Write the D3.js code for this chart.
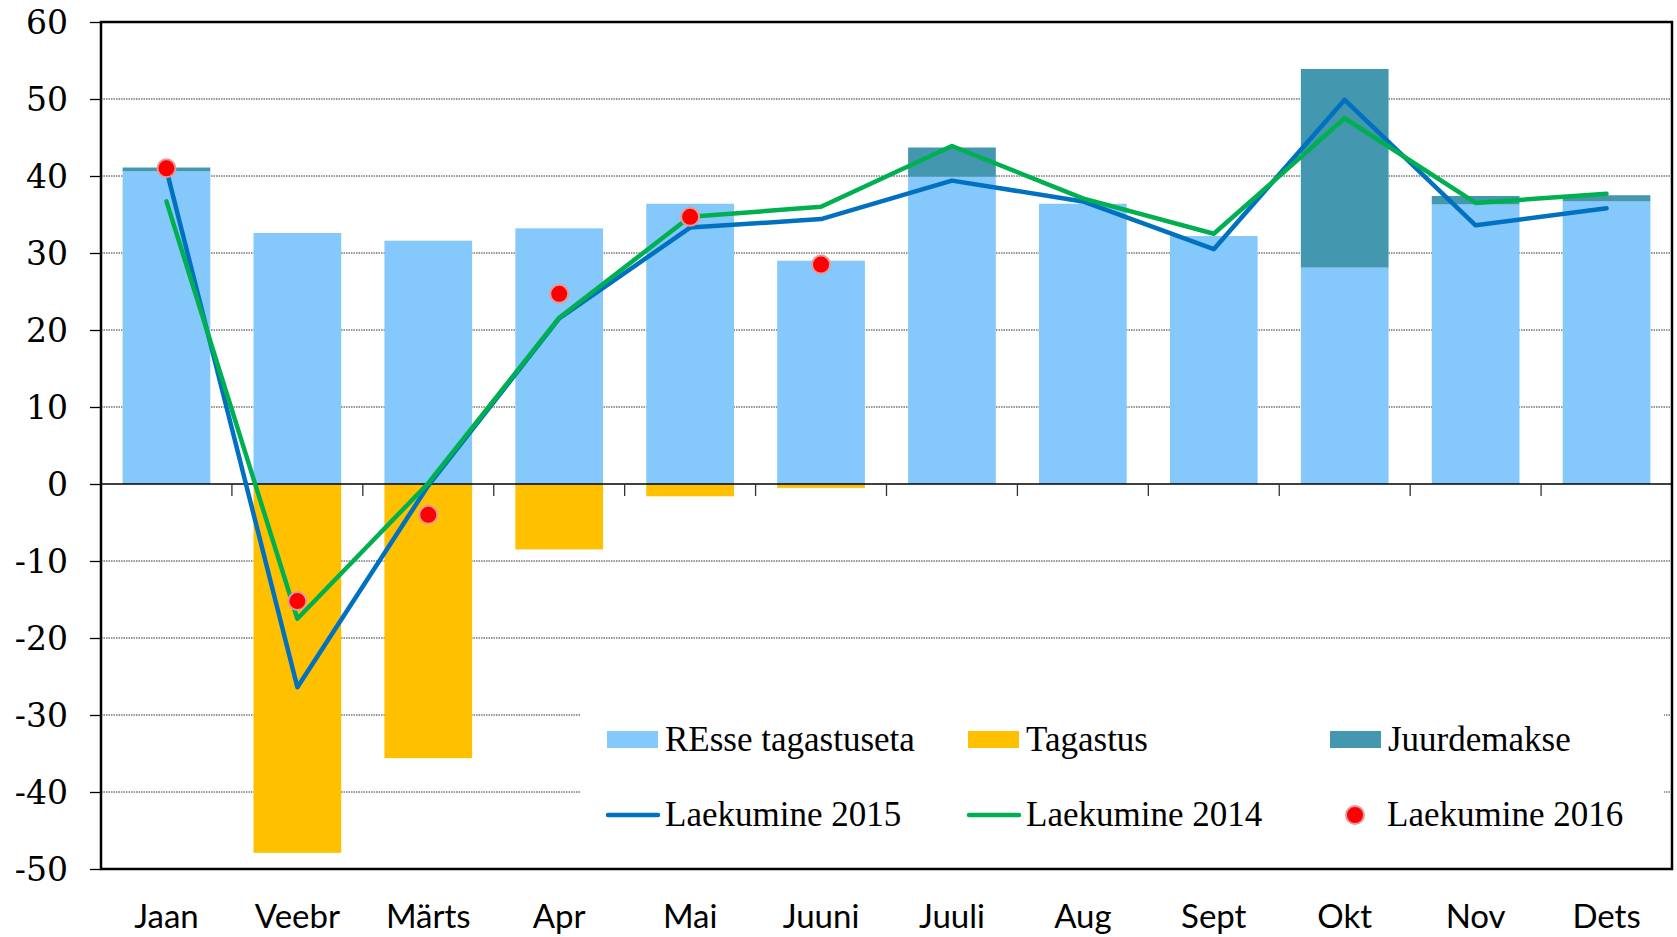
<!DOCTYPE html>
<html>
<head>
<meta charset="utf-8">
<script src="https://cdn.jsdelivr.net/npm/d3@7"></script>
<style>
    body { margin: 0; background: #fff; }
    #y-label text { font-family: "DejaVu Serif", serif; }
</style>
</head>
<body>
<svg id="chart"></svg>
<script>
// months on the x axis
const months = ['Jaan', 'Veebr', 'Märts', 'Apr', 'Mai', 'Juuni', 'Juuli', 'Aug', 'Sept', 'Okt', 'Nov', 'Dets']

// bar series
const ressTagastuseta = [40.6, 32.6, 31.6, 33.2, 36.4, 29.0, 39.9, 36.4, 32.2, 28.1, 36.3, 36.7]
const juurdemakse = [0.5, 0, 0, 0, 0, 0, 3.8, 0, 0, 25.8, 1.1, 0.8]
const tagastus = [0, -47.9, -35.6, -8.5, -1.6, -0.5, 0, 0, 0, 0, 0, 0]

// line series
const laekumine2015 = [40.8, -26.4, -0.2, 21.5, 33.3, 34.4, 39.4, 36.7, 30.5, 49.9, 33.6, 35.8]
const laekumine2014 = [36.7, -17.5, 0.1, 21.6, 34.7, 36.0, 43.9, 37.1, 32.5, 47.5, 36.5, 37.7]
const laekumine2016 = [41.0, -15.2, -4.0, 24.7, 34.7, 28.5]

const yTicks = [-50, -40, -30, -20, -10, 0, 10, 20, 30, 40, 50, 60]

const legendItems = [
    {label: 'REsse tagastuseta', type: 'rect', color: '#85c8fb'},
    {label: 'Tagastus', type: 'rect', color: '#ffc000'},
    {label: 'Juurdemakse', type: 'rect', color: '#4397af'},
    {label: 'Laekumine 2015', type: 'line', color: '#0070c0'},
    {label: 'Laekumine 2014', type: 'line', color: '#00b050'},
    {label: 'Laekumine 2016', type: 'dot', color: '#ff0000'}
]

const config = {
    width: 1677,
    height: 937,
    margin: {top: 22, right: 5, bottom: 68, left: 101}
}

const colors = {
    ress: '#85c8fb',
    tagastus: '#ffc000',
    juurde: '#4397af',
    l2015: '#0070c0',
    l2014: '#00b050',
    l2016: '#ff0000'
}

const svg = d3.select('#chart')
    .attr('width', config.width)
    .attr('height', config.height)

const innerW = config.width - config.margin.left - config.margin.right
const innerH = config.height - config.margin.top - config.margin.bottom

const chart = svg.append('g')
    .attr('transform', `translate(${config.margin.left}, ${config.margin.top})`)

// scales
const xScale = d3.scaleBand()
    .domain(months)
    .range([0, innerW])
    .paddingInner(0.33)
    .paddingOuter(0.165)

const yScale = d3.scaleLinear()
    .domain([-50, 60])
    .range([innerH, 0])

const step = xScale.step()
const center = (m) => xScale(m) + xScale.bandwidth() / 2

// dotted gridlines
chart.append('g')
    .selectAll('line')
    .data(yTicks.filter(t => t !== 0 && t !== 60 && t !== -50))
    .join('line')
    .attr('x1', 0)
    .attr('x2', innerW)
    .attr('y1', d => yScale(d))
    .attr('y2', d => yScale(d))
    .attr('stroke', '#333')
    .attr('stroke-width', 1)
    .attr('stroke-dasharray', '1.5,1')

// bars
const barData = months.map((m, i) => ({
    month: m,
    ress: ressTagastuseta[i],
    juurde: juurdemakse[i],
    tagastus: tagastus[i]
}))

chart.append('g')
    .selectAll('rect')
    .data(barData)
    .join('rect')
    .attr('x', d => xScale(d.month))
    .attr('width', xScale.bandwidth())
    .attr('y', d => yScale(d.ress))
    .attr('height', d => yScale(0) - yScale(d.ress))
    .attr('fill', colors.ress)

chart.append('g')
    .selectAll('rect')
    .data(barData.filter(d => d.juurde > 0))
    .join('rect')
    .attr('x', d => xScale(d.month))
    .attr('width', xScale.bandwidth())
    .attr('y', d => yScale(d.ress + d.juurde))
    .attr('height', d => yScale(d.ress) - yScale(d.ress + d.juurde))
    .attr('fill', colors.juurde)

chart.append('g')
    .selectAll('rect')
    .data(barData.filter(d => d.tagastus < 0))
    .join('rect')
    .attr('x', d => xScale(d.month))
    .attr('width', xScale.bandwidth())
    .attr('y', yScale(0))
    .attr('height', d => yScale(d.tagastus) - yScale(0))
    .attr('fill', colors.tagastus)

// zero line with category ticks
chart.append('line')
    .attr('x1', 0)
    .attr('x2', innerW)
    .attr('y1', yScale(0))
    .attr('y2', yScale(0))
    .attr('stroke', '#000')
    .attr('stroke-width', 1.3)

chart.append('g')
    .selectAll('line')
    .data(months.slice(1))
    .join('line')
    .attr('x1', d => xScale(d) - step * 0.33 / 2)
    .attr('x2', d => xScale(d) - step * 0.33 / 2)
    .attr('y1', yScale(0))
    .attr('y2', yScale(0) + 12)
    .attr('stroke', '#333')
    .attr('stroke-width', 1.3)

// lines
const line = d3.line()
    .x((d, i) => center(months[i]))
    .y(d => yScale(d))

chart.append('path')
    .datum(laekumine2015)
    .attr('d', line)
    .attr('fill', 'none')
    .attr('stroke', colors.l2015)
    .attr('stroke-width', 4.5)
    .attr('stroke-linejoin', 'round')
    .attr('stroke-linecap', 'round')

chart.append('path')
    .datum(laekumine2014)
    .attr('d', line)
    .attr('fill', 'none')
    .attr('stroke', colors.l2014)
    .attr('stroke-width', 4.5)
    .attr('stroke-linejoin', 'round')
    .attr('stroke-linecap', 'round')

// 2016 dots
chart.append('g')
    .selectAll('circle')
    .data(laekumine2016)
    .join('circle')
    .attr('cx', (d, i) => center(months[i]))
    .attr('cy', d => yScale(d))
    .attr('r', 9)
    .attr('fill', colors.l2016)
    .attr('stroke', '#e39a9a')
    .attr('stroke-width', 2)

// y axis, plain hyphen for negatives like the original
const yAxis = d3.axisLeft(yScale)
    .tickValues(yTicks)
    .tickSize(11)
    .tickPadding(22)
    .tickFormat(d => String(d))

const yAxisG = chart.append('g')
    .attr('id', 'y-label')
    .call(yAxis)

yAxisG.select('.domain').remove()
yAxisG.selectAll('.tick line').attr('stroke', '#000').attr('stroke-width', 1.3)
yAxisG.selectAll('.tick text')
    .attr('font-size', 33)
    .attr('fill', '#000')
    .attr('dy', '0.36em')

// x labels
chart.append('g')
    .selectAll('text')
    .data(months)
    .join('text')
    .attr('x', d => center(d))
    .attr('y', innerH + 59)
    .attr('text-anchor', 'middle')
    .attr('font-family', 'Lato, sans-serif')
    .attr('font-size', 33)
    .attr('fill', '#000')
    .text(d => d)

// legend
const legend = chart.append('g')

legend.append('rect')
    .attr('x', 480)
    .attr('y', 683)
    .attr('width', 1083)
    .attr('height', 158)
    .attr('fill', '#fff')

const colX = [506, 867, 1229]
const rowY = [717.5, 793]

legendItems.forEach((item, i) => {
    const cx = colX[i % 3]
    const cy = rowY[Math.floor(i / 3)]
    if (item.type === 'rect') {
        legend.append('rect')
            .attr('x', cx)
            .attr('y', cy - 8.5)
            .attr('width', 51)
            .attr('height', 17)
            .attr('fill', item.color)
    } else if (item.type === 'line') {
        legend.append('line')
            .attr('x1', cx + 1)
            .attr('x2', cx + 51)
            .attr('y1', cy)
            .attr('y2', cy)
            .attr('stroke', item.color)
            .attr('stroke-width', 4.5)
            .attr('stroke-linecap', 'round')
    } else {
        legend.append('circle')
            .attr('cx', cx + 25)
            .attr('cy', cy)
            .attr('r', 9)
            .attr('fill', item.color)
            .attr('stroke', '#e39a9a')
            .attr('stroke-width', 2)
    }
    legend.append('text')
        .attr('x', cx + (item.type === 'dot' ? 57 : 58))
        .attr('y', cy + 11)
        .attr('font-family', '"Liberation Serif", serif')
        .attr('font-size', 35)
        .attr('fill', '#000')
        .text(item.label)
})

// frame
chart.append('rect')
    .attr('x', 0)
    .attr('y', 0)
    .attr('width', innerW)
    .attr('height', innerH)
    .attr('fill', 'none')
    .attr('stroke', '#000')
    .attr('stroke-width', 2.5)
</script>
</body>
</html>
